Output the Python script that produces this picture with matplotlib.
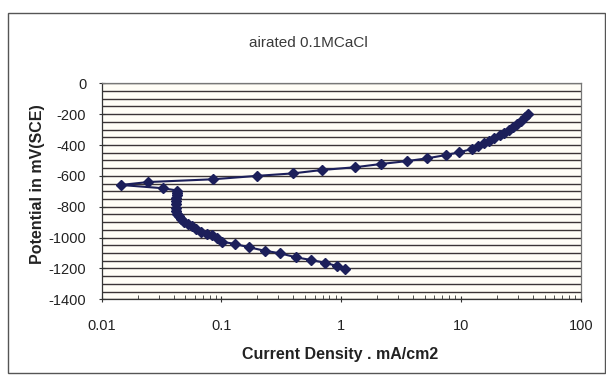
import numpy as np
import matplotlib
matplotlib.use("Agg")
import matplotlib.pyplot as plt
from matplotlib.patches import Rectangle
from matplotlib.ticker import FixedLocator, LogLocator, NullFormatter

plt.rcParams['font.family'] = ['Liberation Sans', 'DejaVu Sans']

# polarisation curve, one series (cathodic end -> anodic end)
current = [1.08, 0.92, 0.73, 0.56, 0.42, 0.31, 0.23, 0.17, 0.13, 0.101,
           0.092, 0.083, 0.076, 0.068, 0.062, 0.057, 0.053, 0.049, 0.046, 0.044,
           0.043, 0.042, 0.042, 0.042, 0.042, 0.042, 0.043, 0.043, 0.043,
           0.0324, 0.0145, 0.0245, 0.0858, 0.198, 0.395, 0.69, 1.31, 2.15,
           3.57, 5.25, 7.5, 9.7, 12.3, 14.0, 15.6, 17.3, 19.0, 21.0, 23.1,
           25.0, 27.1, 29.5, 32.0, 34.0, 36.3]
potential = [-1205, -1184, -1163, -1145, -1128, -1102, -1085, -1063, -1041, -1027,
             -1005, -985, -975, -962, -945, -928, -912, -897, -880, -862,
             -845, -825, -805, -785, -765, -745, -725, -710, -695,
             -680, -659, -640, -622, -600, -584, -562, -544, -523,
             -504, -486, -465, -447, -426, -408, -389, -373, -357, -338, -320,
             -303, -285, -263, -242, -220, -199]

y_major = [0, -200, -400, -600, -800, -1000, -1200, -1400]
x_major = [0.01, 0.1, 1, 10, 100]
x_labels = ['0.01', '0.1', '1', '10', '100']

fig = plt.figure(figsize=(6.06, 3.75), dpi=100)
fig.patch.set_facecolor('white')

# outer chart frame
fig.add_artist(Rectangle((8 / 606, 1 - 373 / 375), 597 / 606, 360 / 375,
                         transform=fig.transFigure, fill=False,
                         edgecolor='#555555', linewidth=1.0))

ax = fig.add_axes([101.5 / 606, 1 - 299.3 / 375, 479.2 / 606, 216 / 375])
ax.set_facecolor('#fffdf6')

# horizontal grid every 50 mV
for g in np.arange(0, -1401, -50):
    ax.axhline(g, color='#3b3436', linewidth=1.0, zorder=1)

ax.plot(current, potential, color='#1c1f5a', linewidth=1.5,
        marker='D', markersize=5.2, markerfacecolor='#1c1f5a',
        markeredgecolor='#1c1f5a', zorder=3)

ax.set_xscale('log')
ax.set_xlim(0.01, 100)
ax.set_ylim(-1400, 0)
ax.xaxis.set_major_locator(FixedLocator(x_major))
ax.set_xticklabels(x_labels)
ax.xaxis.set_minor_locator(LogLocator(base=10, subs=np.arange(2, 10)))
ax.xaxis.set_minor_formatter(NullFormatter())
ax.set_yticks(y_major)
ax.set_yticklabels([str(v) for v in y_major])

ax.tick_params(axis='both', which='major', labelsize=10.5, length=4,
               direction='inout', color='#333333', labelcolor='#222222')
ax.tick_params(axis='x', which='minor', length=3, direction='in', color='#333333')
ax.tick_params(axis='x', which='major', pad=12)
ax.tick_params(axis='y', which='major', pad=9)
for s in ax.spines.values():
    s.set_color('#777777')
    s.set_linewidth(0.9)
ax.spines['left'].set_color('#333333')
ax.spines['bottom'].set_color('#333333')

fig.text(0.509, 1 - 43 / 375, 'airated 0.1MCaCl', ha='center', va='center',
         fontsize=11, color='#3a3a3a')
fig.text(38 / 606, 1 - 184 / 375, 'Potential in mV(SCE)', rotation=90,
         ha='center', va='center', fontsize=11.5, fontweight='bold', color='#222222')
fig.text(340 / 606, 1 - 354 / 375, 'Current Density . mA/cm2', ha='center',
         va='center', fontsize=11.5, fontweight='bold', color='#222222')

fig.savefig('out.png', dpi=100)
